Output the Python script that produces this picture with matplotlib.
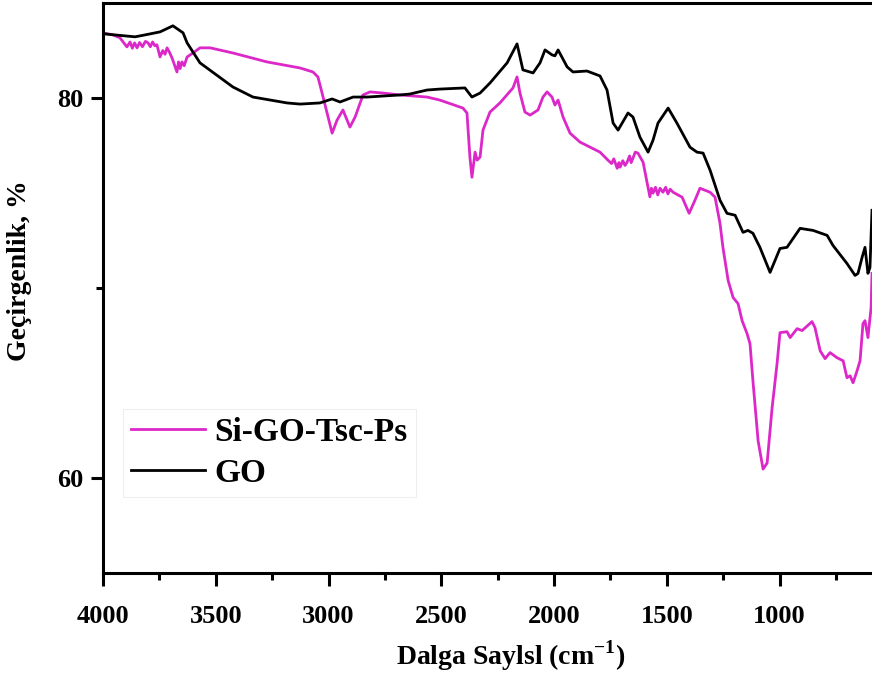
import matplotlib
matplotlib.use("Agg")
import matplotlib.pyplot as plt
from matplotlib.ticker import MultipleLocator

# GO spectrum (wavenumber, transmittance)
go_wn = [4000, 3858, 3814, 3747, 3690, 3645, 3627, 3570, 3424, 3335, 3184, 3126,
         3038, 2984, 2949, 2891, 2829, 2683, 2639, 2563, 2506, 2395, 2364, 2328,
         2284, 2208, 2164, 2138, 2093, 2062, 2040, 2009, 1996, 1982, 1942, 1916,
         1854, 1796, 1765, 1738, 1716, 1672, 1650, 1619, 1583, 1561, 1539, 1494,
         1455, 1397, 1366, 1339, 1308, 1264, 1233, 1197, 1162, 1140, 1118, 1087,
         1042, 998, 967, 909, 851, 789, 763, 701, 665, 652, 634, 621, 608, 599, 590]
go_t = [83.38, 83.22, 83.32, 83.48, 83.80, 83.43, 82.90, 81.85, 80.58, 80.05, 79.74, 79.68,
        79.74, 79.95, 79.79, 80.05, 80.05, 80.16, 80.21, 80.42, 80.47, 80.53, 80.05, 80.26,
        80.79, 81.85, 82.85, 81.48, 81.32, 81.85, 82.53, 82.27, 82.22, 82.53, 81.64, 81.37,
        81.42, 81.16, 80.42, 78.68, 78.31, 79.21, 79.00, 77.94, 77.15, 77.78, 78.68, 79.47,
        78.68, 77.41, 77.15, 77.10, 76.20, 74.62, 73.93, 73.83, 72.93, 73.03, 72.88, 72.14,
        70.82, 72.08, 72.14, 73.14, 73.03, 72.77, 72.24, 71.29, 70.66, 70.77, 71.61, 72.14,
        70.77, 71.08, 74.09]

# Si-GO-Tsc-Ps spectrum
si_wn = [4000, 3956, 3925, 3894, 3880, 3870, 3860, 3849, 3838, 3825, 3812, 3800,
         3790, 3780, 3770, 3761, 3747, 3735, 3725, 3716, 3705, 3694, 3685, 3672,
         3665, 3658, 3650, 3640, 3627, 3601, 3570, 3525, 3424, 3273, 3126, 3069,
         3047, 3024, 2984, 2962, 2936, 2905, 2882, 2847, 2816, 2758, 2683, 2563,
         2506, 2404, 2386, 2373, 2364, 2350, 2341, 2328, 2315, 2284, 2240, 2182,
         2164, 2151, 2129, 2106, 2071, 2049, 2031, 2009, 1996, 1982, 1960, 1929,
         1885, 1840, 1796, 1761, 1745, 1735, 1720, 1712, 1707, 1695, 1685, 1676,
         1665, 1658, 1650, 1640, 1628, 1605, 1583, 1575, 1568, 1561, 1550, 1540,
         1530, 1517, 1505, 1495, 1485, 1472, 1432, 1401, 1375, 1353, 1308, 1286,
         1264, 1251, 1228, 1206, 1184, 1166, 1144, 1131, 1118, 1095, 1073, 1055,
         1033, 1011, 998, 967, 953, 922, 900, 856, 843, 820, 798, 776, 745, 718,
         701, 687, 674, 656, 643, 630, 621, 608, 594, 590]
si_t = [83.43, 83.32, 83.17, 82.69, 82.95, 82.62, 82.90, 82.64, 82.92, 82.70, 82.98, 82.90,
        82.70, 82.95, 82.75, 82.80, 82.16, 82.50, 82.30, 82.64, 82.40, 82.11, 81.80, 81.37,
        81.90, 81.55, 81.90, 81.70, 82.16, 82.37, 82.64, 82.64, 82.37, 81.90, 81.58, 81.37,
        81.11, 80.05, 78.15, 78.84, 79.37, 78.47, 79.00, 80.16, 80.32, 80.26, 80.16, 80.05,
        79.89, 79.47, 79.21, 76.89, 75.83, 77.15, 76.73, 76.89, 78.31, 79.26, 79.74, 80.53,
        81.11, 80.26, 79.26, 79.10, 79.37, 80.05, 80.32, 80.05, 79.63, 79.89, 79.00, 78.15,
        77.68, 77.41, 77.15, 76.73, 76.55, 76.80, 76.30, 76.60, 76.36, 76.70, 76.45, 76.62,
        76.95, 76.60, 76.83, 77.15, 77.10, 76.62, 75.30, 74.80, 75.25, 74.99, 75.30, 74.90,
        75.25, 75.04, 75.30, 74.95, 75.20, 75.04, 74.78, 73.93, 74.62, 75.25, 75.04, 74.78,
        73.40, 72.14, 70.40, 69.50, 69.18, 68.28, 67.60, 67.07, 65.12, 61.95, 60.47, 60.79,
        63.69, 66.02, 67.65, 67.70, 67.39, 67.86, 67.76, 68.23, 67.92, 66.70, 66.28, 66.60, 66.33, 66.17,
        65.28, 65.38, 65.01, 65.65, 66.17, 68.13, 68.28, 67.39, 68.97, 70.77]

x_ticks = [4000, 3500, 3000, 2500, 2000, 1500, 1000]
y_ticks = [60, 80]

plt.rcParams["font.family"] = ["Liberation Serif", "DejaVu Serif"]
plt.rcParams["font.weight"] = "bold"
plt.rcParams["mathtext.fontset"] = "custom"
plt.rcParams["mathtext.rm"] = "Liberation Serif:bold"
plt.rcParams["mathtext.bf"] = "Liberation Serif:bold"

fig = plt.figure(figsize=(8.72, 6.84), dpi=100)
ax = fig.add_axes([103 / 872, 111 / 684, 769 / 872, 570 / 684])

ax.plot(si_wn, si_t, color="#DC28C8", lw=2.0, label="Si-GO-Tsc-Ps")
ax.plot(go_wn, go_t, color="black", lw=2.0, label="GO")

ax.set_xlim(4000, 590)
ax.set_ylim(55, 85)
ax.set_xticks(x_ticks)
ax.set_yticks(y_ticks)
ax.xaxis.set_minor_locator(MultipleLocator(250))
ax.yaxis.set_minor_locator(MultipleLocator(10))

for s in ["left", "bottom", "top"]:
    ax.spines[s].set_linewidth(2.2)
ax.spines["right"].set_visible(False)

ax.tick_params(which="major", direction="out", length=9, width=2.2, labelsize=19)
ax.tick_params(which="minor", direction="out", length=5, width=2.2)
ax.tick_params(axis="x", which="major", pad=14)
ax.tick_params(axis="y", which="major", pad=5)
ax.tick_params(top=False, right=False, which="both")

ax.set_xlabel("Dalga Saylsl (cm$^{-1}$)", fontsize=20, fontweight="bold")
ax.set_ylabel("Geçirgenlik, %", fontsize=20, fontweight="bold")
ax.xaxis.set_label_coords(0.53, -0.115)
ax.yaxis.set_label_coords(-0.092, 0.53)

leg = ax.legend(loc="lower left", bbox_to_anchor=(0.026, 0.133), borderaxespad=0,
                fontsize=24, handlelength=2.2, handletextpad=0.3, labelspacing=0.3,
                borderpad=0.25, fancybox=False, framealpha=1)
leg.get_frame().set_edgecolor("#eeeeee")
leg.get_frame().set_linewidth(0.8)

fig.savefig("out.png", dpi=100)
